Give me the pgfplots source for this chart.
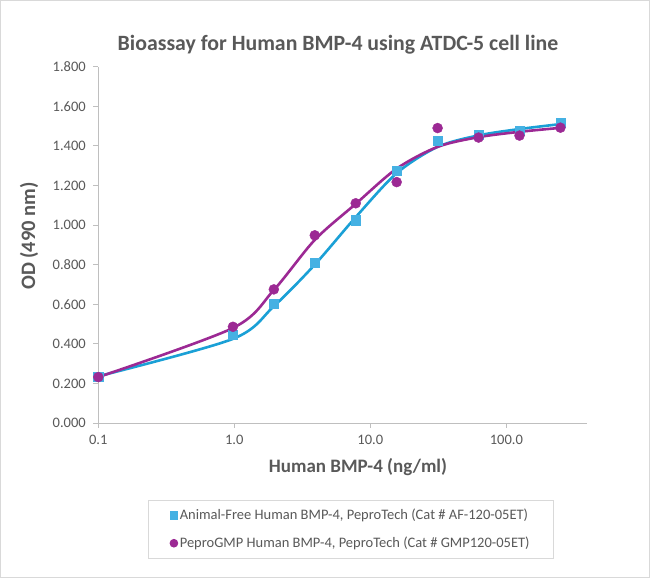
\documentclass[border=0pt]{standalone}
\usepackage{pgfplots}
\pgfplotsset{compat=1.18}
\usepackage{fontspec}
\setmainfont{Carlito}
\definecolor{sqc}{HTML}{45B1E3}
\definecolor{cyl}{HTML}{1AA0D6}
\definecolor{pur}{HTML}{9C2994}
\definecolor{txt}{HTML}{595959}
\definecolor{axc}{HTML}{BFBFBF}
\definecolor{frm}{HTML}{D9D9D9}
\begin{document}
\begin{tikzpicture}[x=1pt,y=1pt]
\draw[fill=white, draw=frm, line width=1pt] (0.5,0.5) rectangle (649.5,577.5);
\node[font=\fontsize{21.8}{26}\selectfont\bfseries, text=txt] at (338,533) {Bioassay for Human BMP-4 using ATDC-5 cell line};
\node[font=\fontsize{19}{23}\selectfont\bfseries, text=txt] at (358,111) {Human BMP-4 (ng/ml)};
\node[font=\fontsize{20.5}{24}\selectfont\bfseries, text=txt, rotate=90] at (29,342) {OD (490 nm)};
\begin{axis}[
  at={(98.3pt,155pt)}, anchor=south west,
  scale only axis, width=488.4pt, height=356.3pt,
  xmode=log, xmin=0.1, xmax=390, ymin=0, ymax=1.8,
  axis lines*=left,
  axis line style={draw=axc, line width=0.8pt},
  tick style={draw=axc, line width=0.8pt},
  tick align=outside, major tick length=5pt,
  xminorticks=false,
  xtick={0.1,1,10,100}, xticklabels={0.1,1.0,10.0,100.0},
  ytick={0,0.2,0.4,0.6,0.8,1.0,1.2,1.4,1.6,1.8},
  /pgf/number format/fixed, /pgf/number format/fixed zerofill, /pgf/number format/precision=3, /pgf/number format/assume math mode=true,
  ticklabel style={font=\fontsize{14.5}{17}\selectfont, text=txt},
  xticklabel style={yshift=-4pt},
  yticklabel style={xshift=-4pt},
  clip=false,
  legend style={at={(0.517,-0.298)}, anchor=center, draw=frm, line width=0.8pt,
    inner xsep=22pt, inner ysep=7pt, row sep=12pt,
    font=\fontsize{14.5}{17}\selectfont, text=txt},
  legend cell align=left,
  legend image code/.code={\draw[#1, mark size=3.9pt] plot coordinates {(0.12cm,0cm)};},
]
\addplot[cyl, line width=2.6pt, smooth, tension=0.5, forget plot] coordinates {
(0.1,0.236) (0.977,0.425) (1.953,0.59) (3.906,0.80) (7.8125,1.04) (15.625,1.262) (31.25,1.395) (62.5,1.453) (125,1.485) (250,1.510)};
\addplot[only marks, mark=square*, mark size=4.6pt, color=sqc] coordinates {
(0.1,0.235) (0.977,0.447) (1.953,0.602) (3.906,0.809) (7.8125,1.025) (15.625,1.273) (31.25,1.428) (62.5,1.458) (125,1.478) (250,1.518)};
\addlegendentry{Animal-Free Human BMP-4, PeproTech (Cat \# AF-120-05ET)}
\addplot[pur, line width=2.6pt, smooth, tension=0.5, forget plot] coordinates {
(0.1,0.232) (0.977,0.48) (1.953,0.672) (3.906,0.925) (7.8125,1.107) (15.625,1.285) (31.25,1.395) (62.5,1.444) (125,1.471) (250,1.491)};
\addplot[only marks, mark=*, mark size=5pt, color=pur] coordinates {
(0.1,0.232) (0.977,0.486) (1.953,0.675) (3.906,0.948) (7.8125,1.110) (15.625,1.217) (31.25,1.490) (62.5,1.442) (125,1.452) (250,1.492)};
\addlegendentry{PeproGMP Human BMP-4, PeproTech (Cat \# GMP120-05ET)}
\end{axis}
\end{tikzpicture}
\end{document}
